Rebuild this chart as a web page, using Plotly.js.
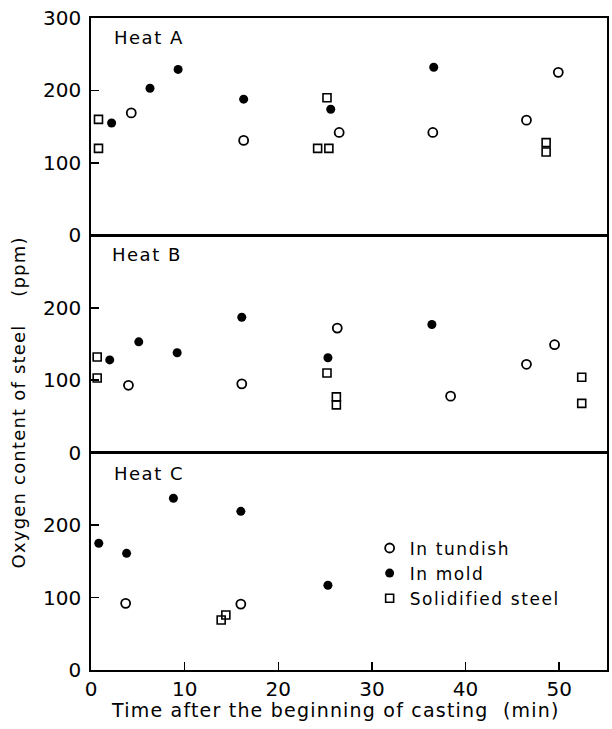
<!DOCTYPE html>
<html>
<head>
<meta charset="utf-8">
<script src="https://cdn.plot.ly/plotly-3.0.1.min.js"></script>
<style>html,body{margin:0;padding:0;background:#fff;}#chart{width:612px;height:729px;}</style>
</head>
<body>
<div id="chart"></div>
<script>
// Heat A
const xA_tundish = [4.3, 16.3, 26.5, 36.5, 46.5, 49.9];
const yA_tundish = [169, 131, 142, 142, 159, 225];
const xA_mold = [2.2, 6.3, 9.3, 16.3, 25.6, 36.6];
const yA_mold = [155, 203, 229, 188, 174, 232];
const xA_solid = [0.8, 0.8, 24.2, 25.4, 25.2, 48.6, 48.6];
const yA_solid = [160, 120, 120, 120, 190, 128, 115];
// Heat B
const xB_tundish = [4.0, 16.1, 26.3, 38.4, 46.5, 49.5];
const yB_tundish = [93, 95, 172, 78, 122, 149];
const xB_mold = [2.0, 5.1, 9.2, 16.1, 25.3, 36.4];
const yB_mold = [128, 153, 138, 187, 131, 177];
const xB_solid = [0.66, 0.66, 25.2, 26.2, 26.2, 52.4, 52.4];
const yB_solid = [132, 103, 110, 77, 66, 104, 68];
// Heat C
const xC_tundish = [3.7, 16.0];
const yC_tundish = [92, 91];
const xC_mold = [0.83, 3.8, 8.8, 16.0, 25.3];
const yC_mold = [175, 161, 237, 219, 117];
const xC_solid = [13.9, 14.4];
const yC_solid = [69, 76];

const seriesNames = ['In tundish', 'In mold', 'Solidified steel'];
const heatLabels = ['Heat A', 'Heat B', 'Heat C'];
const xTicks = [0, 10, 20, 30, 40, 50];
const yTicksTop = [0, 100, 200, 300];
const yTicks = [0, 100, 200];

const FONT = 'DejaVu Sans, sans-serif';
const styles = [
  {symbol: 'circle-open', size: 9, color: '#000', line: {width: 1.8, color: '#000'}},
  {symbol: 'circle', size: 9, color: '#000', line: {width: 0}},
  {symbol: 'square-open', size: 8, color: '#000', line: {width: 1.6, color: '#000'}}
];

function spaced(t, px) { return '<span style="letter-spacing:' + px + 'px">' + t + '</span>'; }

const heats = [
  {xa: 'x3', ya: 'y3', data: [[xA_tundish, yA_tundish], [xA_mold, yA_mold], [xA_solid, yA_solid]]},
  {xa: 'x2', ya: 'y2', data: [[xB_tundish, yB_tundish], [xB_mold, yB_mold], [xB_solid, yB_solid]]},
  {xa: 'x', ya: 'y', data: [[xC_tundish, yC_tundish], [xC_mold, yC_mold], [xC_solid, yC_solid]]}
];

const traces = [];
heats.forEach((h, hi) => {
  h.data.forEach((d, si) => {
    traces.push({
      type: 'scatter', mode: 'markers',
      x: d[0], y: d[1], xaxis: h.xa, yaxis: h.ya,
      name: spaced(seriesNames[si], 1.6), legendgroup: seriesNames[si],
      showlegend: hi === 2,
      marker: styles[si], cliponaxis: false, hoverinfo: 'skip'
    });
  });
});

const axisLine = {showline: true, linecolor: '#000', linewidth: 1.8, mirror: true, zeroline: false, showgrid: false};
function yAxis(domain, ticks) {
  return Object.assign({}, axisLine, {
    domain: domain, range: [0, 300], tickvals: ticks, ticktext: ticks.map(String),
    ticks: 'inside', ticklen: 8, tickwidth: 1.5, tickcolor: '#000',
    tickfont: {family: FONT, size: 20, color: '#000'}, ticklabelstandoff: 4
  });
}
function xHidden(anchor) {
  return Object.assign({}, axisLine, {anchor: anchor, matches: 'x', range: [0, 55.1], showticklabels: false, ticks: ''});
}

const layout = {
  width: 612, height: 729,
  margin: {l: 91, r: 5, t: 18, b: 59},
  paper_bgcolor: '#fff', plot_bgcolor: '#fff',
  showlegend: true,
  legend: {x: 0.54, y: 0.214, xanchor: 'left', yanchor: 'top', bgcolor: 'rgba(0,0,0,0)',
           font: {family: FONT, size: 17, color: '#000'}, tracegroupgap: 0},
  xaxis: Object.assign({}, axisLine, {
    anchor: 'y', range: [0, 55.1], tickvals: xTicks, ticktext: xTicks.map(String),
    ticks: 'inside', ticklen: 8, tickwidth: 1.5, tickcolor: '#000',
    tickfont: {family: FONT, size: 20, color: '#000'}
  }),
  xaxis2: xHidden('y2'),
  xaxis3: xHidden('y3'),
  yaxis: yAxis([0, 1/3], yTicks),
  yaxis2: yAxis([1/3, 2/3], yTicks),
  yaxis3: yAxis([2/3, 1], yTicksTop),
  annotations: [
    {text: spaced(heatLabels[0], 1.5), xref: 'x3 domain', yref: 'y3 domain', x: 0.04, y: 0.91, xanchor: 'left', yanchor: 'middle', showarrow: false, font: {family: FONT, size: 18, color: '#000'}},
    {text: spaced(heatLabels[1], 1.5), xref: 'x2 domain', yref: 'y2 domain', x: 0.037, y: 0.91, xanchor: 'left', yanchor: 'middle', showarrow: false, font: {family: FONT, size: 18, color: '#000'}},
    {text: spaced(heatLabels[2], 1.5), xref: 'x domain', yref: 'y domain', x: 0.04, y: 0.905, xanchor: 'left', yanchor: 'middle', showarrow: false, font: {family: FONT, size: 18, color: '#000'}},
    {text: spaced('Oxygen content of steel    (ppm)', 1.2), xref: 'paper', yref: 'paper', x: -0.14, y: 0.41, xanchor: 'center', yanchor: 'middle', textangle: -90, showarrow: false, font: {family: FONT, size: 18, color: '#000'}},
    {text: spaced('Time after the beginning of casting  (min)', 1.2), xref: 'paper', yref: 'paper', x: 0.473, y: -0.0613, xanchor: 'center', yanchor: 'middle', showarrow: false, font: {family: FONT, size: 19, color: '#000'}}
  ]
};

Plotly.newPlot('chart', traces, layout, {displayModeBar: false, staticPlot: true});
</script>
</body>
</html>
